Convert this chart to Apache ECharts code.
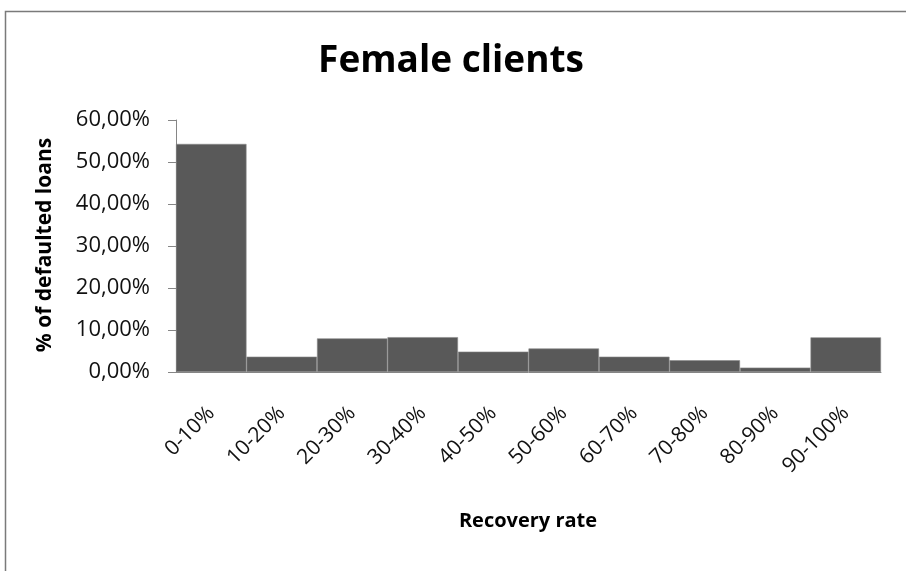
<!DOCTYPE html>
<html>
<head>
<meta charset="utf-8">
<script src="https://cdn.jsdelivr.net/npm/echarts@6/dist/echarts.min.js"></script>
<style>
  html, body { margin: 0; padding: 0; background: #fff; }
  #chart { width: 906px; height: 571px; }
</style>
</head>
<body>
<div id="chart"></div>
<script>
// Recovery-rate buckets and share of defaulted loans (percent)
const categories = ['0-10%', '10-20%', '20-30%', '30-40%', '40-50%', '50-60%', '60-70%', '70-80%', '80-90%', '90-100%'];
const shares = [54.3, 3.65, 8.0, 8.3, 4.85, 5.6, 3.65, 2.8, 1.05, 8.25];
const yTicks = [0, 10, 20, 30, 40, 50, 60];

const FONT = '"Open Sans", "Noto Sans", sans-serif';
const AXIS_GREY = '#868686';

const chart = echarts.init(document.getElementById('chart'), null, { renderer: 'canvas' });

chart.setOption({
  animation: false,
  backgroundColor: '#ffffff',
  grid: { left: 176, top: 120, right: 25, bottom: 199, containLabel: false },
  xAxis: {
    type: 'category',
    data: categories,
    axisLine: { show: true, lineStyle: { color: AXIS_GREY, width: 1 } },
    axisTick: { show: false },
    axisLabel: {
      rotate: 45,
      margin: 38,
      interval: 0,
      color: '#111',
      fontFamily: FONT,
      fontSize: 21
    }
  },
  yAxis: {
    type: 'value',
    min: yTicks[0],
    max: yTicks[yTicks.length - 1],
    interval: 10,
    splitLine: { show: false },
    axisLine: { show: true, lineStyle: { color: AXIS_GREY, width: 1 } },
    axisTick: { show: true, length: 8, lineStyle: { color: AXIS_GREY } },
    axisLabel: {
      margin: 26,
      color: '#111',
      fontFamily: FONT,
      fontSize: 22,
      formatter: v => v.toFixed(2).replace('.', ',') + '%'
    }
  },
  series: [{
    type: 'bar',
    data: shares,
    barCategoryGap: 0,
    itemStyle: { color: '#595959', borderColor: '#8a8a8a', borderWidth: 0.6 }
  }],
  graphic: [
    {
      type: 'rect',
      shape: { x: 5.5, y: 11.5, width: 1200, height: 1000 },
      style: { fill: 'none', stroke: '#7a7a7a', lineWidth: 1.5 },
      silent: true
    },
    {
      type: 'text',
      x: 451, y: 61,
      style: {
        text: 'Female clients',
        fontFamily: FONT, fontWeight: 'bold', fontSize: 37,
        fill: '#000', align: 'center', verticalAlign: 'middle'
      }
    },
    {
      type: 'text',
      x: 528, y: 521,
      style: {
        text: 'Recovery rate',
        fontFamily: FONT, fontWeight: 'bold', fontSize: 20,
        fill: '#000', align: 'center', verticalAlign: 'middle'
      }
    },
    {
      type: 'text',
      x: 45, y: 245,
      rotation: Math.PI / 2,
      style: {
        text: '% of defaulted loans',
        fontFamily: FONT, fontWeight: 'bold', fontSize: 21,
        fill: '#000', align: 'center', verticalAlign: 'middle'
      }
    }
  ]
});
</script>
</body>
</html>
